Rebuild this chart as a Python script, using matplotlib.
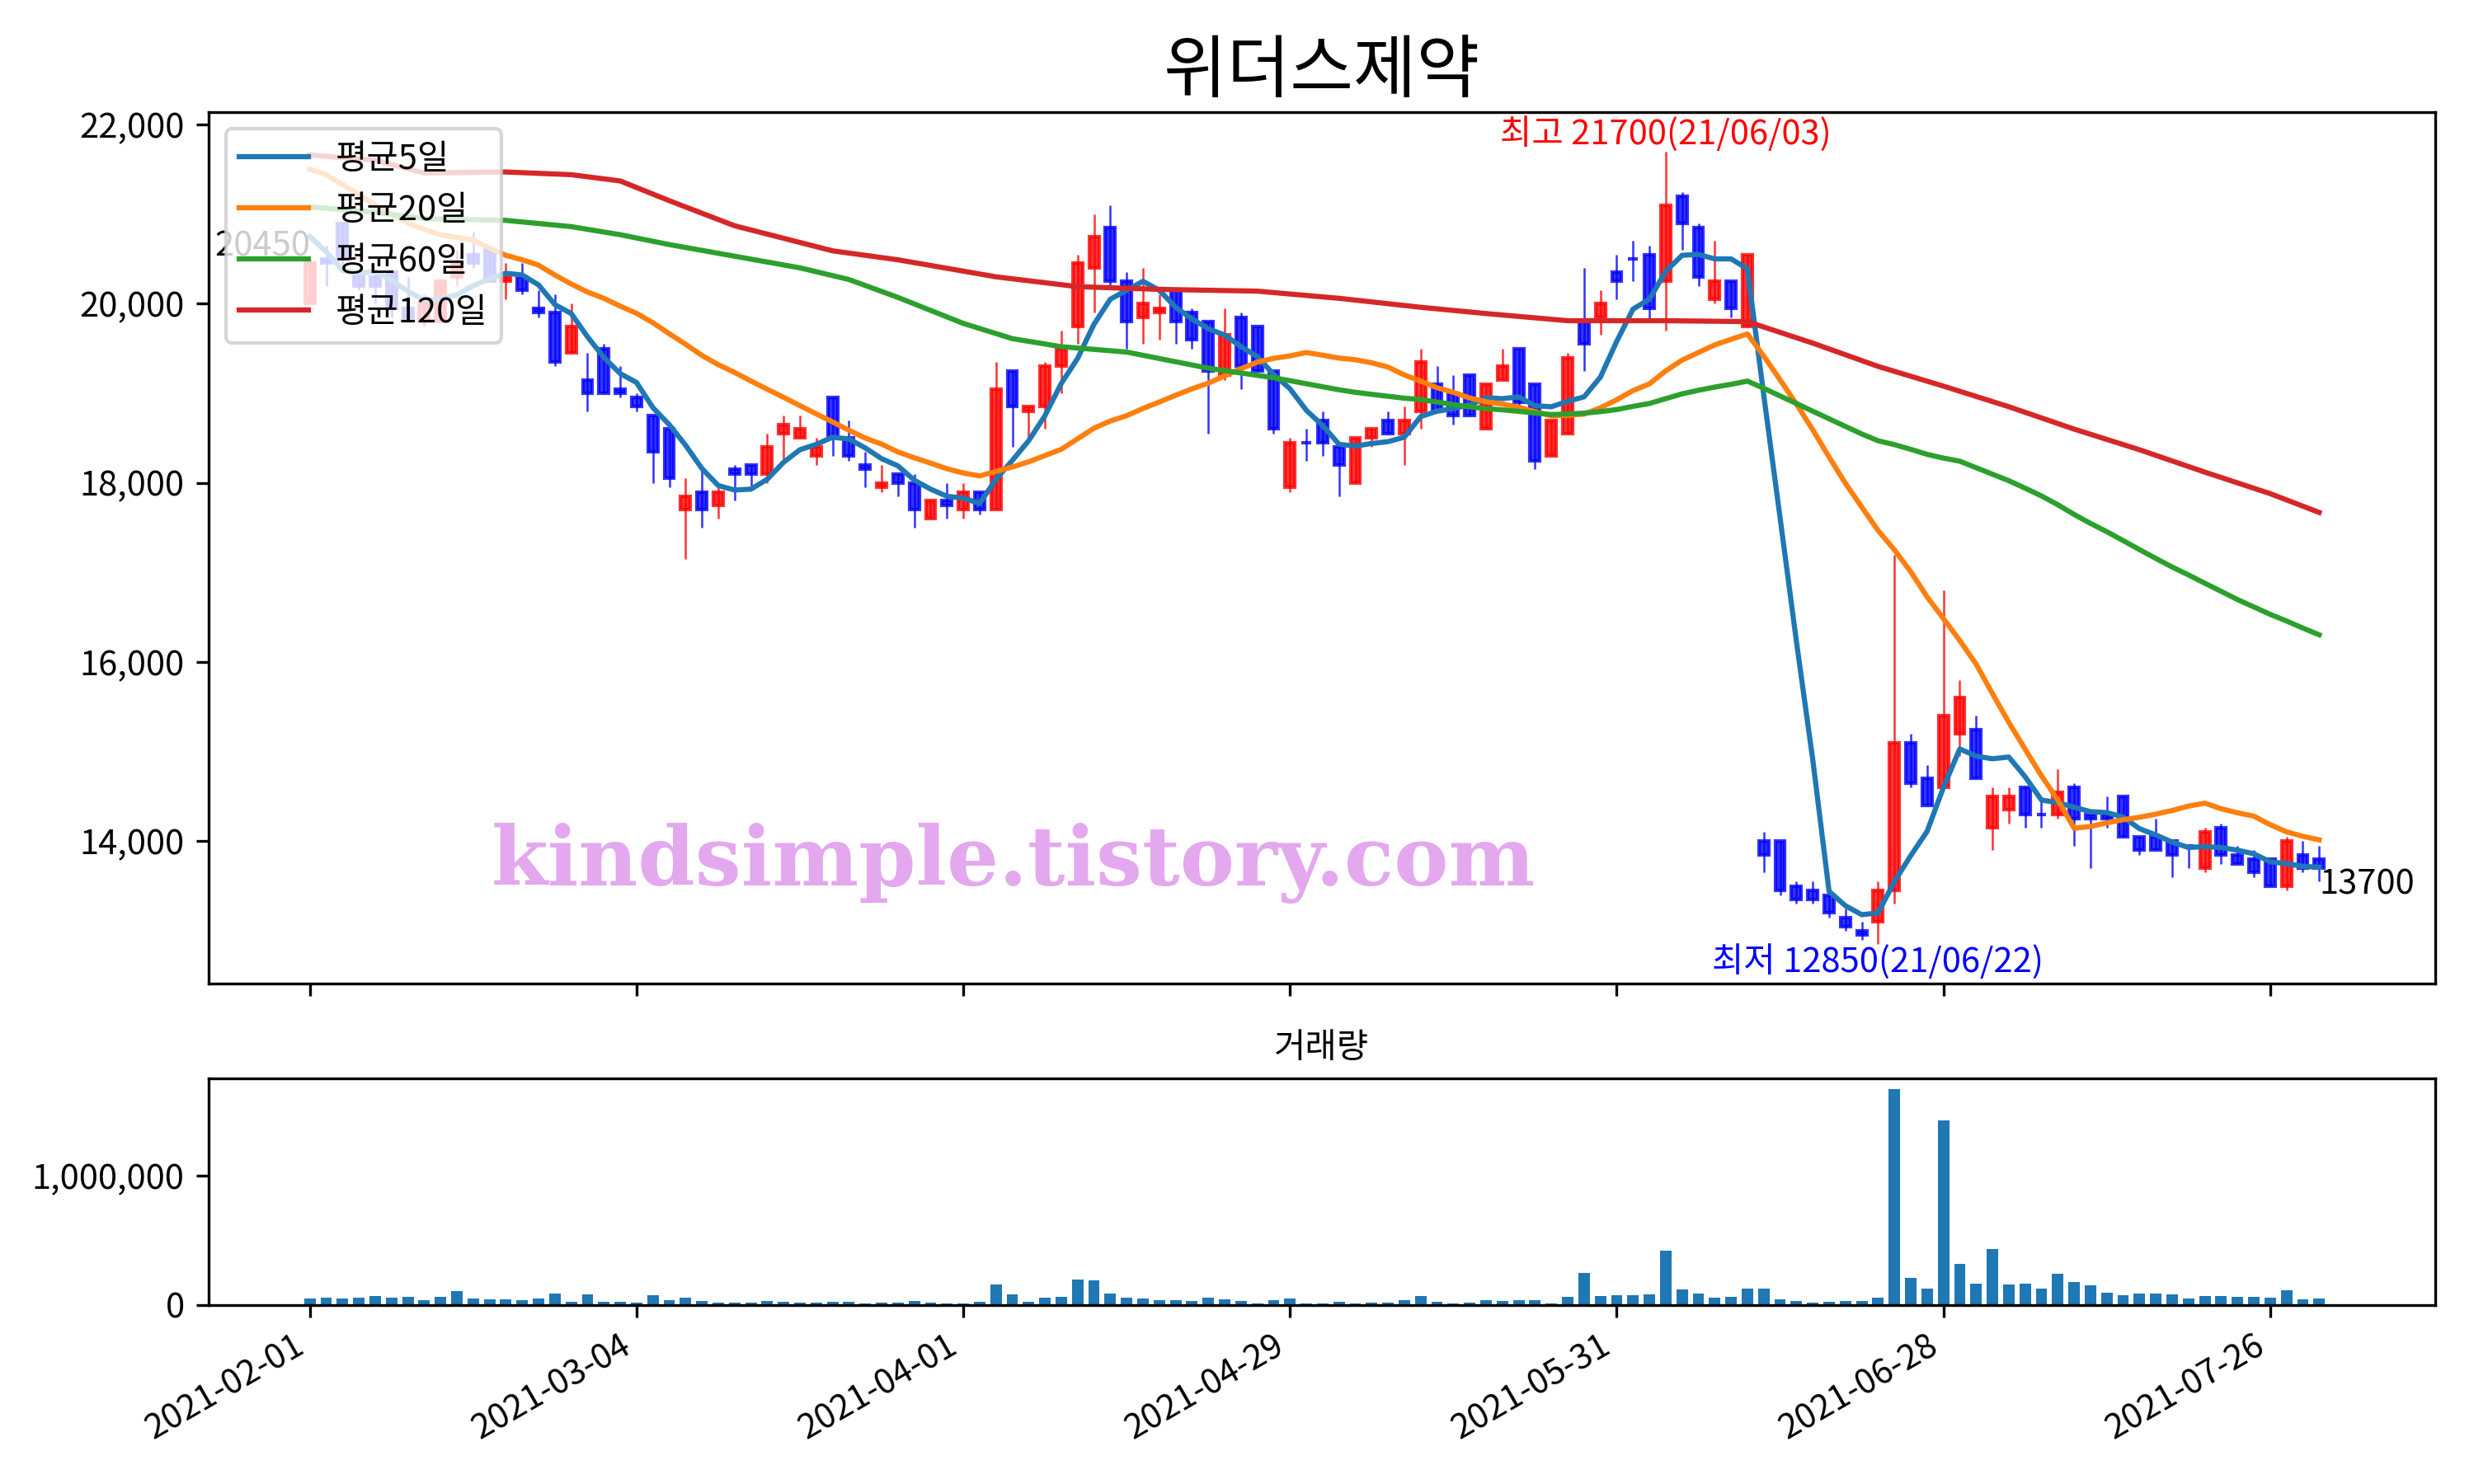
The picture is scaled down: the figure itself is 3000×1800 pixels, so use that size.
import numpy as np
import pandas as pd
import matplotlib
matplotlib.use('Agg')
import matplotlib.pyplot as plt
from matplotlib.ticker import FuncFormatter

plt.rcParams['font.family'] = ['Noto Sans CJK KR', 'DejaVu Sans']
plt.rcParams['axes.unicode_minus'] = False

title = '위더스제약'

# Daily candles, trading days 2021-02-01 .. 2021-07-29.
opens = [20000, 20500, 20900, 20350, 20300, 20350, 19950, 19800, 19800, 20300,
         20550, 20600, 20250, 20300, 19950, 19900, 19450, 19150, 19500, 19050,
         18950, 18750, 18600, 17700, 17900, 17750, 18150, 18200, 18100, 18550,
         18500, 18300, 18950, 18500, 18200, 17950, 18100, 18000, 17600, 17800,
         17700, 17900, 17700, 19250, 18800, 18850, 19300, 19750, 20400, 20850,
         20250, 19850, 19900, 20150, 19900, 19800, 19200, 19850, 19750, 19250,
         17950, 18450, 18700, 18400, 18000, 18500, 18700, 18550, 18800, 19100,
         19000, 19200, 18600, 19150, 19500, 19100, 18300, 18550, 19800, 19850,
         20350, 20500, 20550, 20250, 21200, 20850, 20050, 20250, 19750, 14000,
         14000, 13500, 13450, 13400, 13150, 13000, 13100, 13450, 15100, 14700,
         14600, 15200, 15250, 14150, 14350, 14600, 14300, 14300, 14600, 14300,
         14300, 14500, 14050, 14050, 14000, 13950, 13700, 14150, 13850, 13800,
         13800, 13500, 13850, 13800]
highs = [20500, 20650, 20900, 20350, 20350, 20350, 20300, 20100, 20250, 20600,
         20800, 20600, 20450, 20450, 20150, 20100, 20000, 19450, 19550, 19300,
         19000, 18750, 18600, 18050, 18150, 17950, 18200, 18200, 18550, 18750,
         18750, 18500, 18950, 18700, 18350, 18200, 18100, 18100, 17800, 18000,
         18000, 17900, 19350, 19250, 18850, 19350, 19700, 20550, 21000, 21100,
         20350, 20400, 20100, 20150, 19950, 19800, 19950, 19900, 19750, 19250,
         18500, 18600, 18800, 18400, 18500, 18600, 18800, 18850, 19500, 19300,
         19200, 19200, 19100, 19500, 19500, 19100, 18700, 19450, 20400, 20150,
         20550, 20700, 20650, 21700, 21250, 20900, 20700, 20250, 20550, 14100,
         14000, 13550, 13550, 13400, 13250, 13100, 13550, 17200, 15200, 14850,
         16800, 15800, 15400, 14600, 14600, 14600, 14450, 14800, 14650, 14300,
         14500, 14500, 14050, 14250, 14000, 13950, 14150, 14200, 13950, 13900,
         13800, 14050, 14000, 13950]
lows = [20000, 20200, 20400, 20150, 20000, 19850, 19850, 19750, 19800, 20200,
        20400, 20250, 20050, 20100, 19850, 19300, 19450, 18800, 19000, 18950,
        18800, 18000, 17950, 17150, 17500, 17600, 17800, 17950, 18000, 18250,
        18500, 18200, 18300, 18250, 17950, 17900, 17850, 17500, 17600, 17600,
        17600, 17650, 17700, 18400, 18500, 18600, 19000, 19550, 19900, 20200,
        19500, 19550, 19600, 19550, 19500, 18550, 19150, 19050, 19250, 18550,
        17900, 18250, 18300, 17850, 18000, 18400, 18550, 18200, 18600, 18800,
        18650, 18750, 18600, 19150, 18850, 18150, 18300, 18550, 19250, 19650,
        20050, 20250, 19800, 19700, 20600, 20200, 20000, 19850, 19750, 13650,
        13400, 13300, 13300, 13150, 13000, 12900, 12850, 13300, 14600, 14400,
        14600, 14950, 14700, 13900, 14200, 14150, 14150, 14250, 13950, 13700,
        14150, 14050, 13850, 13900, 13600, 13700, 13650, 13750, 13750, 13600,
        13500, 13450, 13650, 13550]
closes = [20450, 20450, 20500, 20200, 20200, 19950, 19850, 20000, 20250, 20450,
          20450, 20250, 20300, 20150, 19900, 19350, 19750, 19000, 19000, 19000,
          18850, 18350, 18050, 17850, 17700, 17900, 18100, 18100, 18400, 18650,
          18600, 18400, 18500, 18300, 18150, 18000, 18000, 17700, 17800, 17750,
          17900, 17700, 19050, 18850, 18850, 19300, 19500, 20450, 20750, 20250,
          19800, 20000, 19950, 19800, 19600, 19250, 19650, 19300, 19250, 18600,
          18450, 18450, 18450, 18200, 18500, 18600, 18550, 18700, 19350, 18800,
          18750, 18750, 19100, 19300, 18900, 18250, 18700, 19400, 19550, 20000,
          20250, 20500, 19950, 21100, 20900, 20300, 20250, 19950, 20550, 13850,
          13450, 13350, 13350, 13200, 13050, 12950, 13450, 15100, 14650, 14400,
          15400, 15600, 14700, 14500, 14500, 14300, 14300, 14550, 14250, 14250,
          14250, 14050, 13900, 13900, 13850, 13950, 14100, 13850, 13750, 13650,
          13500, 14000, 13700, 13700]
volumes = [49000, 55000, 49000, 55000, 68000, 55000, 62000, 36000, 62000, 106000,
           49000, 43000, 43000, 36000, 49000, 87000, 23000, 81000, 23000, 23000,
           17000, 74000, 36000, 55000, 30000, 17000, 17000, 17000, 30000, 23000,
           17000, 17000, 23000, 23000, 11000, 17000, 17000, 30000, 17000, 11000,
           11000, 23000, 157000, 81000, 23000, 55000, 62000, 196000, 189000, 87000,
           55000, 49000, 36000, 36000, 30000, 55000, 43000, 30000, 11000, 36000,
           49000, 11000, 11000, 23000, 11000, 17000, 17000, 36000, 68000, 23000,
           11000, 17000, 36000, 30000, 36000, 36000, 11000, 62000, 247000, 68000,
           74000, 74000, 81000, 419000, 119000, 87000, 55000, 62000, 126000, 126000,
           43000, 30000, 17000, 23000, 30000, 30000, 55000, 1670000, 209000, 126000,
           1428000, 317000, 164000, 432000, 157000, 164000, 126000, 240000, 177000, 151000,
           94000, 74000, 87000, 87000, 81000, 49000, 68000, 68000, 62000, 62000,
           55000, 113000, 43000, 49000]

tick_labels = ['2021-02-01', '2021-03-04', '2021-04-01', '2021-04-29',
               '2021-05-31', '2021-06-28', '2021-07-26']

# The averages reach back before 2021-02-01, so their first points
# are read off the chart instead of computed.
ma5_head = [20750, 20580, 20370, 20340]
ma20_head = [21500, 21440, 21330, 21220, 21100, 21000, 20900, 20830, 20770, 20740,
             20710, 20620, 20540, 20490, 20430, 20320, 20220, 20130, 20060]
ma60_head_idx = [0, 4, 7, 12, 16, 19, 22, 26, 30, 33, 36, 40, 43, 46, 50, 55, 58]
ma60_head = [21080, 21020, 20950, 20930, 20860, 20770, 20660, 20530, 20400, 20270,
             20070, 19780, 19610, 19520, 19460, 19280, 19200]
ma120_idx = [0, 4, 7, 12, 16, 19, 22, 26, 32, 36, 42, 47, 52, 58, 63, 68, 72, 77,
             83, 88, 92, 96, 100, 104, 108, 112, 116, 120, 123]
ma120 = [21660, 21600, 21460, 21470, 21440, 21370, 21150, 20870, 20590, 20490,
         20300, 20190, 20160, 20140, 20060, 19960, 19890, 19810, 19810, 19800,
         19560, 19300, 19080, 18850, 18600, 18370, 18120, 17880, 17670]

n = len(closes)
x = np.arange(n)
o, h, l, c = (np.array(v) for v in (opens, highs, lows, closes))
close = pd.Series(closes, dtype=float)

ma5 = close.rolling(5).mean().to_numpy()
ma5[:len(ma5_head)] = ma5_head
ma20 = close.rolling(20).mean().to_numpy()
ma20[:len(ma20_head)] = ma20_head
ma60_tail = close.rolling(60).mean().to_numpy()[59:]
ma60_x = ma60_head_idx + list(range(59, n))
ma60 = ma60_head + list(ma60_tail)

fig = plt.figure(figsize=(10, 6), dpi=300)
ax1 = fig.add_axes([0.0843, 0.337, 0.9, 0.5877])
ax2 = fig.add_axes([0.0843, 0.1206, 0.9, 0.1528], sharex=ax1)

# Candles: red when the close is above the open, blue otherwise.
colors = np.where(c > o, 'r', 'b')
ax1.vlines(x, l, h, colors=colors, linewidth=0.6, alpha=0.8)
ax1.bar(x, np.abs(c - o), bottom=np.minimum(o, c), width=0.6,
        color=colors, edgecolor=colors, linewidth=1.0, alpha=0.8)

ax1.plot(x, ma5, color='C0', label='평균5일')
ax1.plot(x, ma20, color='C1', label='평균20일')
ax1.plot(ma60_x, ma60, color='C2', label='평균60일')
ax1.plot(ma120_idx, ma120, color='C3', label='평균120일')

# Highest / lowest price and first / last close.
i_max = int(np.argmax(h))
i_min = int(np.argmin(l))
ax1.text(i_max, h[i_max], f'최고 {h[i_max]}(21/06/03)', color='r',
         ha='center', va='bottom')
ax1.text(i_min, l[i_min], f'최저 {l[i_min]}(21/06/22)', color='b',
         ha='center', va='top')
ax1.text(0, c[0], f'{c[0]}', ha='right', va='bottom')
ax1.text(n - 1, c[-1], f'{c[-1]}', ha='left', va='top')

ax1.text(0.3615, 0.138, 'kindsimple.tistory.com', transform=ax1.transAxes,
         family='DejaVu Serif', fontweight='bold', fontsize=23.8,
         color='#e3a8ee', ha='center', va='center')

ax1.set_title(title, fontsize=20)
ax1.legend(loc='upper left')
ax1.yaxis.set_major_formatter(FuncFormatter(lambda v, p: format(int(v), ',')))
ax1.tick_params(labelbottom=False)

# Volume.
ax2.bar(x, volumes, width=0.7, color='C0')
ax2.set_title('거래량', fontsize=10)
ax2.set_yticks([0, 1000000])
ax2.yaxis.set_major_formatter(FuncFormatter(lambda v, p: format(int(v), ',')))

ax2.set_xticks(range(0, n, 20))
ax2.set_xticklabels(tick_labels, rotation=30, ha='right')
ax1.set_xlim(-6.2, 130.1)

fig.savefig('out.png', dpi=300)
